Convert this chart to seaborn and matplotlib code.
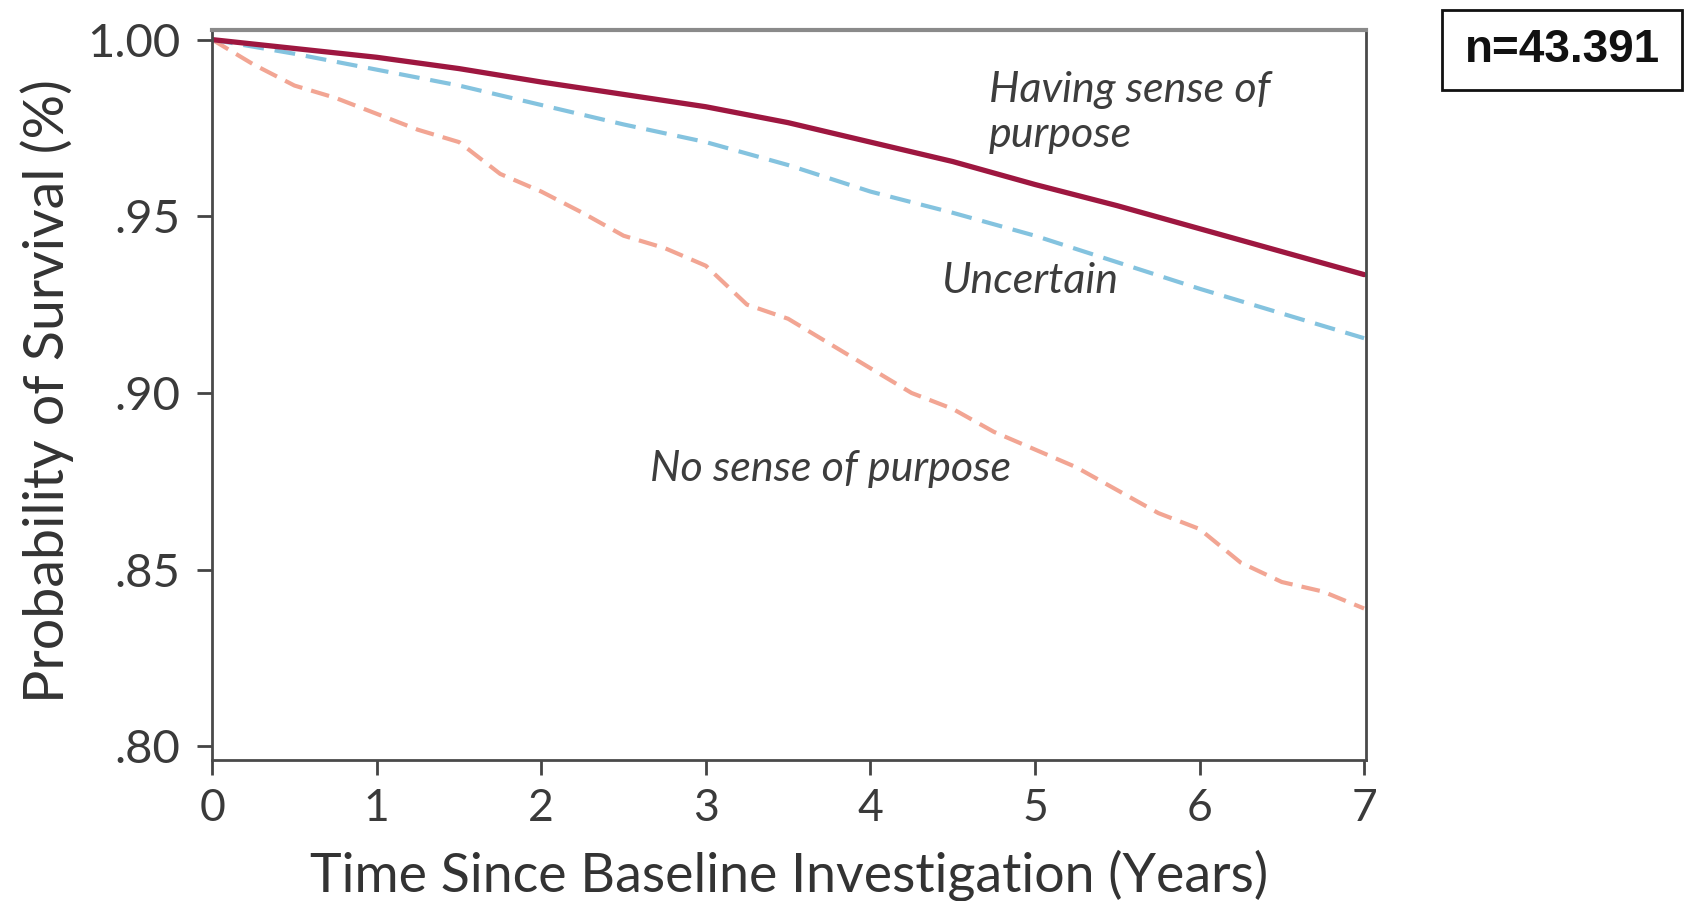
import numpy as np
import pandas as pd
import matplotlib
matplotlib.use("Agg")
import matplotlib.pyplot as plt
from matplotlib.patches import Rectangle
import seaborn as sns

# Survival estimates (Kaplan-Meier) by purpose-in-life group
years_main = [0, 0.5, 1, 1.5, 2, 2.5, 3, 3.5, 4, 4.5, 5, 5.5, 6, 6.5, 7]
having_purpose = [1.000, 0.9975, 0.995, 0.9918, 0.988, 0.9845, 0.981, 0.9765,
                  0.971, 0.9655, 0.959, 0.953, 0.9465, 0.940, 0.9335]
uncertain = [1.000, 0.996, 0.9915, 0.987, 0.9815, 0.976, 0.971, 0.9645,
             0.957, 0.951, 0.9445, 0.937, 0.9295, 0.9225, 0.9155]

years_none = [0, 0.25, 0.5, 0.75, 1, 1.25, 1.5, 1.75, 2, 2.25, 2.5, 2.75, 3,
              3.25, 3.5, 3.75, 4, 4.25, 4.5, 4.75, 5, 5.25, 5.5, 5.75, 6,
              6.25, 6.5, 6.75, 7]
no_purpose = [1.000, 0.993, 0.987, 0.9835, 0.979, 0.9745, 0.971, 0.962, 0.957,
              0.951, 0.9445, 0.941, 0.936, 0.925, 0.921, 0.914, 0.907, 0.900,
              0.8955, 0.889, 0.884, 0.879, 0.8725, 0.866, 0.8615, 0.852,
              0.8465, 0.8438, 0.839]

x_ticks = [0, 1, 2, 3, 4, 5, 6, 7]
y_ticks = [0.80, 0.85, 0.90, 0.95, 1.00]
y_tick_labels = [".80", ".85", ".90", ".95", "1.00"]
sample_label = "n=43.391"

sns.set_theme(style="white")
plt.rcParams["font.family"] = ["Lato", "DejaVu Sans"]

fig = plt.figure(figsize=(16.84, 9.01), dpi=100)
ax = fig.add_axes([0.126, 0.156, 0.685, 0.811])

df_main = pd.DataFrame({"t": years_main, "having": having_purpose,
                        "uncertain": uncertain})
df_none = pd.DataFrame({"t": years_none, "none": no_purpose})

sns.lineplot(data=df_none, x="t", y="none", ax=ax, color="#F2A593",
             linewidth=3.0)
ax.lines[-1].set_dashes([4.5, 2.2])
sns.lineplot(data=df_main, x="t", y="uncertain", ax=ax, color="#84C3DF",
             linewidth=3.0)
ax.lines[-1].set_dashes([5, 2.6])
sns.lineplot(data=df_main, x="t", y="having", ax=ax, color="#9E1740",
             linewidth=3.8)

ax.set_xlim(0, 7.01)
ax.set_ylim(0.796, 1.0028)
ax.set_xticks(x_ticks)
ax.set_xticklabels([str(v) for v in x_ticks])
ax.set_yticks(y_ticks)
ax.set_yticklabels(y_tick_labels)

ax.tick_params(axis="both", which="major", direction="out", length=11,
               width=2, color="#444444", labelcolor="#3a3a3a",
               left=True, bottom=True)
ax.tick_params(axis="x", pad=9, labelsize=32)
ax.tick_params(axis="y", pad=12, labelsize=34)

for side in ["left", "bottom", "right"]:
    ax.spines[side].set_color("#4a4a4a")
    ax.spines[side].set_linewidth(2)
ax.spines["top"].set_color("#8a8a8a")
ax.spines["top"].set_linewidth(3)

ax.set_xlabel("Time Since Baseline Investigation (Years)", fontsize=38.7,
              color="#333333")
ax.xaxis.label.set_va("baseline")
ax.xaxis.set_label_coords(0.5, -0.18)
ax.set_ylabel("Probability of Survival (%)", fontsize=40, color="#333333")
ax.yaxis.label.set_va("center")
ax.yaxis.set_label_coords(-0.143, 0.505)

label_kw = dict(fontsize=31, style="italic", color="#3d3d3d", va="center",
                ha="left")
ax.text(4.72, 0.9794, "Having sense of\npurpose", linespacing=1.22, **label_kw)
ax.text(4.43, 0.9317, "Uncertain", **label_kw)
ax.text(2.66, 0.8785, "No sense of purpose", **label_kw)

# Sample size box in the top-right corner
fig.patches.append(Rectangle((0.8563, 0.9001), 0.1425, 0.0888,
                             transform=fig.transFigure, fill=False,
                             edgecolor="#111111", linewidth=2))
fig.text(0.9276, 0.9445, sample_label, fontsize=33, fontweight="bold",
         family="Liberation Sans", ha="center", va="center", color="#111111")

fig.savefig("out.png", dpi=100)
